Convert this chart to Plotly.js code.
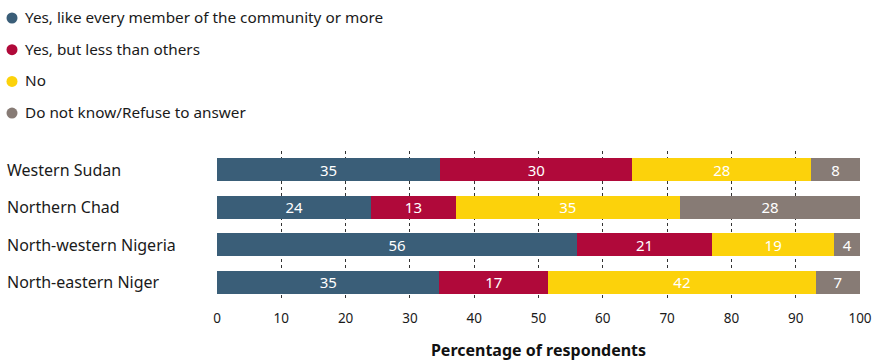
<!DOCTYPE html>
<html>
<head>
<meta charset="utf-8">
<script src="https://cdn.plot.ly/plotly-3.0.1.min.js"></script>
<style>html,body{margin:0;padding:0;background:#fff;}#chart{width:876px;height:361px;}</style>
</head>
<body>
<div id="chart"></div>
<script>
const categories = ['Western Sudan', 'Northern Chad', 'North-western Nigeria', 'North-eastern Niger'];
const seriesNames = ['Yes, like every member of the community or more', 'Yes, but less than others', 'No', 'Do not know/Refuse to answer'];
const seriesColors = ['#3A5E78', '#B0093A', '#FCD20B', '#877B75'];
// estimated (unrounded) shares
const yesLike  = [34.7, 24.0, 56.0, 34.6];
const yesLess  = [29.9, 13.1, 21.0, 16.9];
const no       = [27.8, 34.9, 19.0, 41.6];
const dontKnow = [7.6, 28.0, 4.0, 6.9];
// printed labels
const yesLikeLabels  = ['35', '24', '56', '35'];
const yesLessLabels  = ['30', '13', '21', '17'];
const noLabels       = ['28', '35', '19', '42'];
const dontKnowLabels = ['8', '28', '4', '7'];
const xTicks = [0, 10, 20, 30, 40, 50, 60, 70, 80, 90, 100];
const xTitle = 'Percentage of respondents';

const FONT = 'Noto Sans, Open Sans, sans-serif';
const values = [yesLike, yesLess, no, dontKnow];
const labels = [yesLikeLabels, yesLessLabels, noLabels, dontKnowLabels];

const traces = values.map((v, i) => ({
  type: 'bar', orientation: 'h', y: categories, x: v,
  text: labels[i], texttemplate: '%{text}', textposition: 'inside',
  insidetextanchor: 'middle', textangle: 0, constraintext: 'none',
  textfont: {color: '#ffffff', size: 15, family: FONT},
  marker: {color: seriesColors[i], line: {width: 0}},
  showlegend: false, hoverinfo: 'skip', name: seriesNames[i]
}));

const M = {l: 217, r: 16, t: 151, b: 60};
const W = 876, H = 361;
const plotW = W - M.l - M.r;
const plotH = H - M.t - M.b;
const px2x = p => (p - M.l) / plotW;
const py2y = p => (H - M.b - p) / plotH;

const annotations = categories.map(c => ({
  xref: 'paper', yref: 'y', x: px2x(5), y: c, xanchor: 'left', yanchor: 'middle',
  text: c, showarrow: false, font: {family: FONT, size: 16, color: '#1a1a1a'}
}));
// legend (drawn as text + circle shapes so the symbol/label spacing matches)
const shapes = [];
seriesNames.forEach((n, i) => {
  const yp = 17 + i * 31.7;
  shapes.push({
    type: 'circle', xref: 'paper', yref: 'paper',
    xsizemode: 'pixel', ysizemode: 'pixel',
    xanchor: px2x(12), yanchor: py2y(yp + 1),
    x0: -5.5, x1: 5.5, y0: -5.5, y1: 5.5,
    fillcolor: seriesColors[i], line: {width: 0}
  });
  annotations.push({
    xref: 'paper', yref: 'paper', x: px2x(23), y: py2y(yp), xanchor: 'left', yanchor: 'middle',
    text: n, showarrow: false, font: {family: FONT, size: 15.3, color: '#1a1a1a'}
  });
});

const layout = {
  width: W, height: H,
  margin: M,
  paper_bgcolor: '#ffffff', plot_bgcolor: '#ffffff',
  barmode: 'stack', bargap: 0.38,
  font: {family: FONT, color: '#1a1a1a'},
  showlegend: false,
  xaxis: {
    range: [0, 100], tickvals: xTicks, ticktext: xTicks.map(String),
    showgrid: true, gridcolor: '#333333', griddash: 'dot', gridwidth: 1,
    zeroline: false, showline: false, ticks: '', ticklabelstandoff: 7,
    tickfont: {family: FONT, size: 13.5, color: '#1a1a1a'},
    title: {text: xTitle, font: {family: FONT, size: 16, color: '#111111', weight: 'bold'}, standoff: 22},
    fixedrange: true
  },
  yaxis: {
    categoryorder: 'array', categoryarray: categories, autorange: 'reversed',
    showticklabels: false, showgrid: false, zeroline: false, showline: false, ticks: '',
    fixedrange: true
  },
  shapes: shapes,
  annotations: annotations
};

Plotly.newPlot('chart', traces, layout, {displayModeBar: false, staticPlot: true});
</script>
</body>
</html>
